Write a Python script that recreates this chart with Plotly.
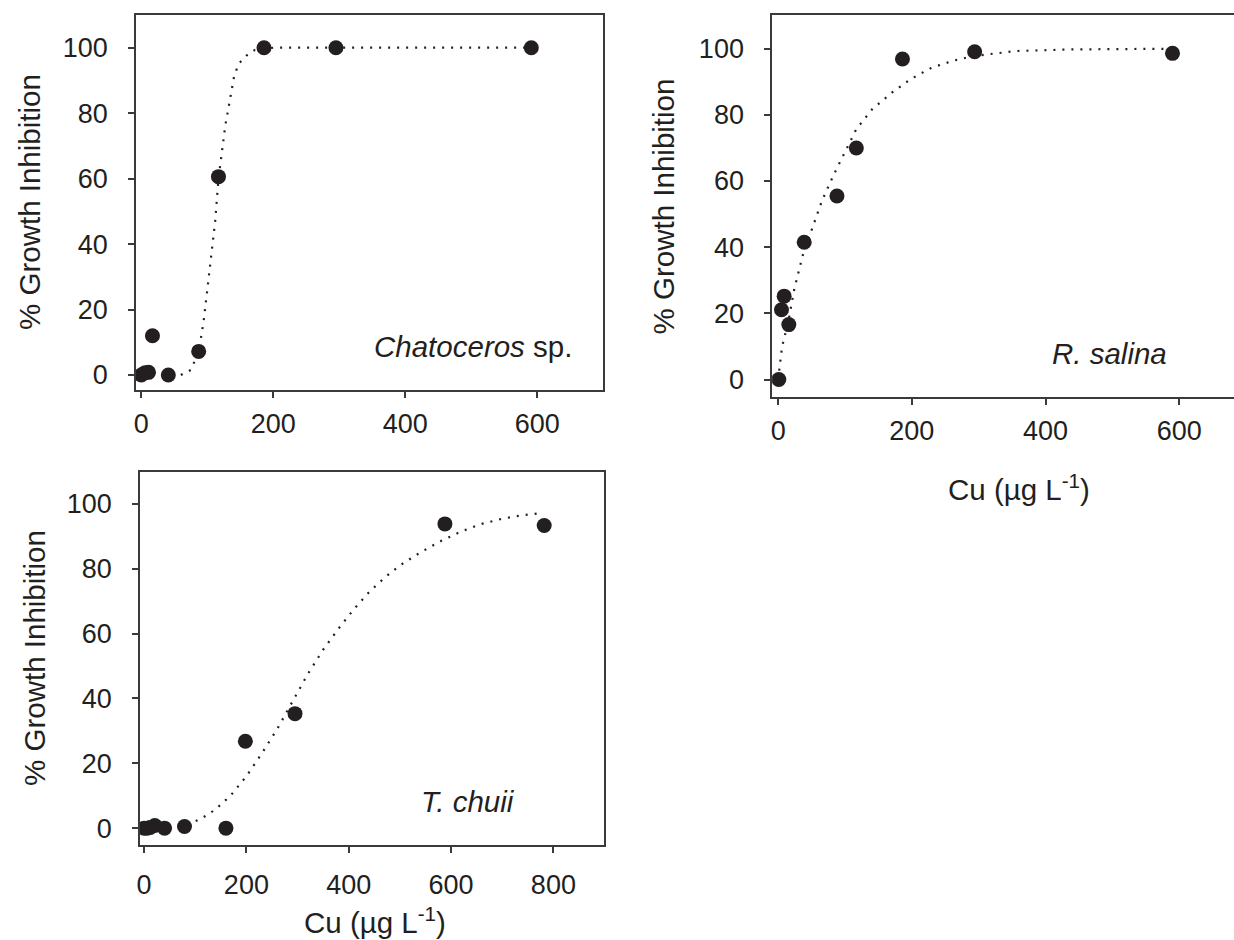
import plotly.graph_objects as go

W, H = 1234, 940

# ---- data ----
chaet_cu = [0, 6, 11, 17, 41, 87, 117, 186, 295, 591]
chaet_inh = [0, 0.7, 0.8, 12.0, 0, 7.2, 60.6, 100, 100, 100]
chaet_fit_cu = [60, 75, 87, 94.5, 100.4, 106.4, 112, 117, 122.6, 127.4, 133.3, 141, 148, 160, 172, 200, 300, 400, 500, 590]
chaet_fit_inh = [0, 1.5, 7, 16.4, 26.6, 36.8, 47, 60, 69.6, 76.3, 82.9, 91.6, 95.2, 97.7, 99.3, 100, 100, 100, 100, 100]

rsal_cu = [1, 5, 9, 16, 39, 88, 117, 186, 294, 590]
rsal_inh = [0, 21.1, 25.2, 16.6, 41.5, 55.5, 70.0, 96.9, 99.1, 98.6]
rsal_fit_cu = [0, 5.8, 15.6, 24.2, 37.5, 50.2, 65.7, 83.6, 99.2, 117, 140.7, 170, 198, 230, 260.6, 292, 356, 442, 586]
rsal_fit_inh = [0, 9.8, 17.9, 27.4, 38, 45, 54.1, 62.1, 68.6, 75.7, 81.7, 86.7, 90.8, 94.3, 96.3, 97.8, 99.3, 99.8, 100]

tchu_cu = [0, 6, 12, 21, 40, 79, 160, 198, 295, 588, 782]
tchu_inh = [0, 0, 0.2, 0.8, 0, 0.5, 0, 26.8, 35.3, 93.8, 93.3]
tchu_fit_cu = [50, 90, 110, 130, 150, 170, 200, 230, 260, 290, 320, 350, 380, 410, 440, 470, 500, 540, 580, 620, 660, 700, 740, 780]
tchu_fit_inh = [0.1, 1.5, 2.8, 4.7, 7.2, 10.2, 16, 23, 30.5, 39, 47.5, 55, 61.5, 67.5, 72.8, 77.2, 81, 85, 88.5, 91.5, 93.8, 95.4, 96.5, 97.2]

x_ticks_top = [0, 200, 400, 600]
x_ticks_bottom = [0, 200, 400, 600, 800]
y_ticks = [0, 20, 40, 60, 80, 100]

species = ["<i>Chatoceros</i> sp.", "<i>R. salina</i>", "<i>T. chuii</i>"]
y_title = "% Growth Inhibition"
x_title = "Cu (µg L<sup>-1</sup>)"

INK = "#231f20"
AX = "#3a3a3a"
FONT = "Liberation Sans, Arial, sans-serif"


def px_x(p):
    return p / W


def px_y(p):
    return 1 - p / H


fig = go.Figure()

panels = [
    (chaet_cu, chaet_inh, chaet_fit_cu, chaet_fit_inh, "x", "y"),
    (rsal_cu, rsal_inh, rsal_fit_cu, rsal_fit_inh, "x2", "y2"),
    (tchu_cu, tchu_inh, tchu_fit_cu, tchu_fit_inh, "x3", "y3"),
]
for cu, inh, fcu, finh, xa, ya in panels:
    fig.add_trace(go.Scatter(x=fcu, y=finh, mode="lines", xaxis=xa, yaxis=ya,
                             line=dict(color=INK, width=2.2, dash="2px,7px"),
                             showlegend=False, hoverinfo="skip"))
    fig.add_trace(go.Scatter(x=cu, y=inh, mode="markers", xaxis=xa, yaxis=ya,
                             marker=dict(color=INK, size=15, line=dict(width=0)),
                             showlegend=False))

common_ax = dict(showline=True, linecolor=AX, linewidth=1.6, ticks="outside",
                 ticklen=6, tickwidth=1.5, tickcolor=AX, showgrid=False,
                 zeroline=False, tickfont=dict(family=FONT, size=27, color=INK))

fig.update_layout(
    width=W, height=H,
    margin=dict(l=0, r=0, t=0, b=0),
    paper_bgcolor="white", plot_bgcolor="white",
    xaxis=dict(domain=[px_x(133.3), px_x(601.7)], range=[-8, 700], tickvals=x_ticks_top,
               mirror=True, anchor="y", ticklabelstandoff=3, **common_ax),
    yaxis=dict(domain=[px_y(390), px_y(15)], range=[-4.6, 110], tickvals=y_ticks,
               mirror=True, anchor="x", ticklabelstandoff=15, **common_ax),
    xaxis2=dict(domain=[px_x(771), 1.0], range=[-9, 682], tickvals=x_ticks_top,
                mirror=True, anchor="y2", ticklabelstandoff=3, **common_ax),
    yaxis2=dict(domain=[px_y(396.7), px_y(15)], range=[-5.2, 110.2], tickvals=y_ticks,
                mirror=False, anchor="x2", ticklabelstandoff=15, **common_ax),
    xaxis3=dict(domain=[px_x(137.3), px_x(602)], range=[-8, 898], tickvals=x_ticks_bottom,
                mirror=True, anchor="y3", ticklabelstandoff=9, **common_ax),
    yaxis3=dict(domain=[px_y(845), px_y(472)], range=[-5.2, 109.8], tickvals=y_ticks,
                mirror=True, anchor="x3", ticklabelstandoff=15, **common_ax),
)

ann_font = dict(family=FONT, size=29.5, color=INK)
annotations = [
    # y-axis titles
    dict(x=px_x(26), y=px_y(202), text=y_title, textangle=-90),
    dict(x=px_x(662), y=px_y(206), text=y_title, textangle=-90),
    dict(x=px_x(31), y=px_y(658), text=y_title, textangle=-90),
    # x-axis titles
    dict(x=px_x(1018), y=px_y(487), text=x_title),
    dict(x=px_x(373), y=px_y(920), text=x_title),
    # species labels
    dict(x=px_x(471.5), y=px_y(347), text=species[0]),
    dict(x=px_x(1109.5), y=px_y(353), text=species[1]),
    dict(x=px_x(466), y=px_y(801), text=species[2]),
]
for a in annotations:
    fig.add_annotation(xref="paper", yref="paper", showarrow=False,
                       xanchor="center", yanchor="middle", font=ann_font, **a)

fig.write_html("out.html")
